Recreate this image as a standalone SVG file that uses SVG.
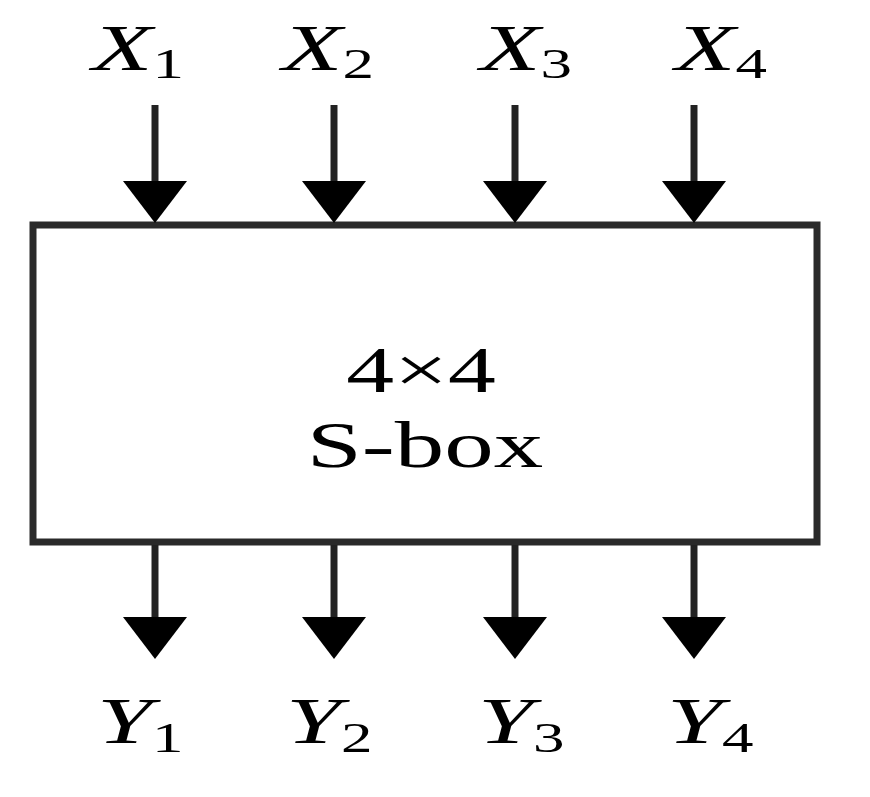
<svg xmlns="http://www.w3.org/2000/svg" width="870" height="797" viewBox="0 0 870 797">
<style>
.lbl{font-family:"Liberation Serif","Times New Roman",serif;font-size:66px;fill:#000;font-style:italic}
.sub{font-size:42px;font-style:normal}
.ctr{font-family:"Liberation Serif","Times New Roman",serif;font-size:66px;fill:#000;text-anchor:middle}
.box{fill:#fff;stroke:#2a2a2a;stroke-width:7}
.wire{stroke:#222;stroke-width:7;fill:none;marker-end:url(#ah)}
</style>
<defs>
<marker id="ah" markerUnits="userSpaceOnUse" viewBox="0 0 42 64" refX="9" refY="32" markerWidth="42" markerHeight="64" orient="auto">
<path d="M0,0 L42,32 L0,64 Z" fill="#000"/>
</marker>
</defs>
<rect width="870" height="797" fill="#fff"/>
<g id="sbox">
<rect class="box" x="33" y="225" width="784" height="317"/>
<text class="ctr" transform="translate(421,392) scale(1.45,1)">4×4</text>
<text class="ctr" transform="translate(425,467) scale(1.5,1)">S-box</text>
</g>
<g id="connectors">
<line class="wire" x1="155" y1="105" x2="155" y2="190"/>
<line class="wire" x1="334" y1="105" x2="334" y2="190"/>
<line class="wire" x1="515" y1="105" x2="515" y2="190"/>
<line class="wire" x1="694" y1="105" x2="694" y2="190"/>
<line class="wire" x1="155" y1="545" x2="155" y2="626"/>
<line class="wire" x1="334" y1="545" x2="334" y2="626"/>
<line class="wire" x1="515" y1="545" x2="515" y2="626"/>
<line class="wire" x1="694" y1="545" x2="694" y2="626"/>
</g>
<g id="x1"><text class="lbl" transform="translate(92,70) scale(1.5,1)">X<tspan class="sub" dy="8">1</tspan></text></g>
<g id="x2"><text class="lbl" transform="translate(282,70) scale(1.5,1)">X<tspan class="sub" dy="8">2</tspan></text></g>
<g id="x3"><text class="lbl" transform="translate(480,70) scale(1.5,1)">X<tspan class="sub" dy="8">3</tspan></text></g>
<g id="x4"><text class="lbl" transform="translate(675,70) scale(1.5,1)">X<tspan class="sub" dy="8">4</tspan></text></g>
<g id="y1"><text class="lbl" transform="translate(97,743) scale(1.5,1)">Y<tspan class="sub" dy="9">1</tspan></text></g>
<g id="y2"><text class="lbl" transform="translate(286,743) scale(1.5,1)">Y<tspan class="sub" dy="9">2</tspan></text></g>
<g id="y3"><text class="lbl" transform="translate(478,743) scale(1.5,1)">Y<tspan class="sub" dy="9">3</tspan></text></g>
<g id="y4"><text class="lbl" transform="translate(667,743) scale(1.5,1)">Y<tspan class="sub" dy="9">4</tspan></text></g>
</svg>
